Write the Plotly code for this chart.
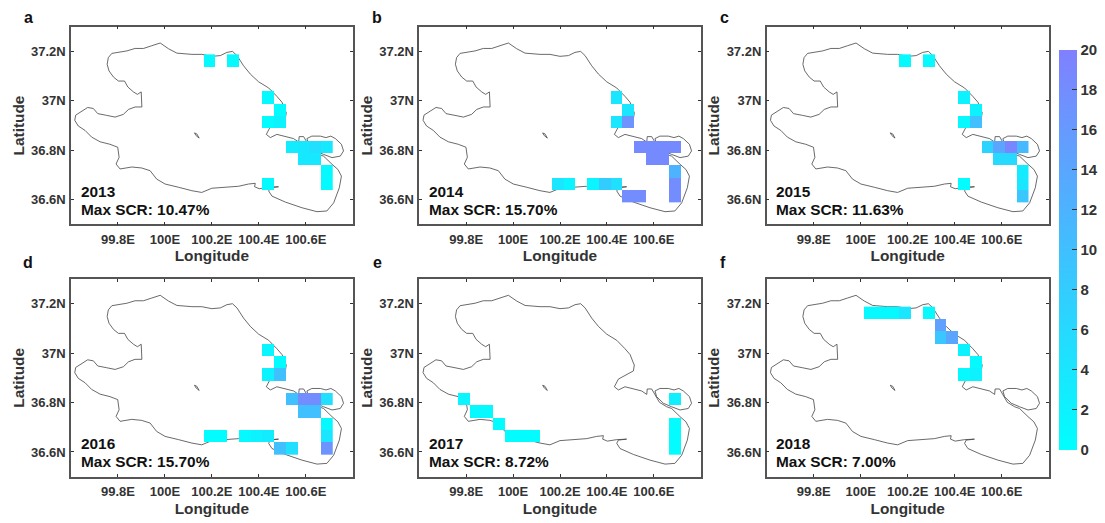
import plotly.graph_objects as go

YEARS = ["2013", "2014", "2015", "2016", "2017", "2018"]
LETTERS = ["a", "b", "c", "d", "e", "f"]
MAX_SCR = ["10.47%", "15.70%", "11.63%", "15.70%", "8.72%", "7.00%"]

LON_CENTERS = [99.79, 99.84, 99.89, 99.94, 99.99, 100.04, 100.09, 100.14, 100.19, 100.24,
               100.29, 100.34, 100.39, 100.44, 100.49, 100.54, 100.59, 100.64, 100.69]
LAT_CENTERS = [36.613, 36.663, 36.713, 36.763, 36.813, 36.863, 36.913, 36.963, 37.013,
               37.063, 37.113, 37.163]

LON_2013 = [100.19, 100.29, 100.44, 100.49, 100.44, 100.49, 100.54, 100.59, 100.64, 100.69, 100.59, 100.64, 100.69, 100.69, 100.44]
LAT_2013 = [37.163, 37.163, 37.013, 36.963, 36.913, 36.913, 36.813, 36.813, 36.813, 36.813, 36.763, 36.763, 36.713, 36.663, 36.663]
VAL_2013 = [0.8, 0.8, 1, 0.5, 0.5, 2, 3, 3.5, 5, 3.5, 3.5, 3.5, 1, 0.8, 0.8]

LON_2014 = [100.44, 100.49, 100.44, 100.49, 100.54, 100.59, 100.64, 100.69, 100.59, 100.64, 100.69, 100.19, 100.24, 100.34, 100.39, 100.44, 100.69, 100.49, 100.54, 100.69]
LAT_2014 = [37.013, 36.963, 36.913, 36.913, 36.813, 36.813, 36.813, 36.813, 36.763, 36.763, 36.713, 36.663, 36.663, 36.663, 36.663, 36.663, 36.663, 36.613, 36.613, 36.613]
VAL_2014 = [4, 4, 4, 17, 18.5, 18.5, 18.5, 18.5, 18.5, 18.5, 12, 4, 1.5, 1.5, 8, 5, 18, 18, 18, 18]

LON_2015 = [100.19, 100.29, 100.44, 100.49, 100.44, 100.49, 100.54, 100.59, 100.64, 100.69, 100.59, 100.64, 100.69, 100.69, 100.44, 100.69]
LAT_2015 = [37.163, 37.163, 37.013, 36.963, 36.913, 36.913, 36.813, 36.813, 36.813, 36.813, 36.763, 36.763, 36.713, 36.663, 36.663, 36.613]
VAL_2015 = [1, 1, 2, 2, 1, 10, 7, 14, 19, 11, 6, 6, 3, 4, 0.5, 9]

LON_2016 = [100.44, 100.49, 100.44, 100.49, 100.54, 100.59, 100.64, 100.69, 100.59, 100.64, 100.69, 100.19, 100.24, 100.34, 100.39, 100.44, 100.69, 100.49, 100.54, 100.69]
LAT_2016 = [37.013, 36.963, 36.913, 36.913, 36.813, 36.813, 36.813, 36.813, 36.763, 36.763, 36.713, 36.663, 36.663, 36.663, 36.663, 36.663, 36.663, 36.613, 36.613, 36.613]
VAL_2016 = [1.5, 0.5, 2, 10, 10, 18, 18, 5, 10, 10, 1, 0.5, 0.5, 1, 2, 3, 4, 10, 5, 17]

LON_2017 = [99.79, 99.84, 99.89, 99.94, 99.99, 100.04, 100.09, 100.69, 100.69, 100.69, 100.69]
LAT_2017 = [36.813, 36.763, 36.763, 36.713, 36.663, 36.663, 36.663, 36.813, 36.713, 36.663, 36.613]
VAL_2017 = [1.5, 1, 1, 0.5, 0.5, 0.5, 0.5, 2.5, 0.5, 0.5, 0.5]

LON_2018 = [100.04, 100.09, 100.14, 100.19, 100.29, 100.34, 100.34, 100.39, 100.44, 100.49, 100.44, 100.49]
LAT_2018 = [37.163, 37.163, 37.163, 37.163, 37.163, 37.113, 37.063, 37.063, 37.013, 36.963, 36.913, 36.913]
VAL_2018 = [1, 1, 1, 4, 1, 15, 9, 14, 2, 1, 1, 2]

# Lake shoreline (main shore, then the sub-lake loop and the small island, split by None)
LAKE_LON = [99.980, 100.015, 100.051, 100.093, 100.115, 100.157, 100.200, 100.236, 100.264, 100.288,
            100.307, 100.335, 100.364, 100.399, 100.442, 100.477, 100.499, 100.513, 100.517, 100.513,
            100.477, 100.449, 100.432, 100.449, 100.477, 100.513, 100.548, 100.570, 100.572, 100.591,
            100.605, 100.624, 100.655, 100.676, 100.712, 100.737, 100.752, 100.743, 100.719, 100.690,
            100.648, 100.584, 100.513, 100.456, 100.442, 100.449, 100.484, 100.442, 100.402, 100.382,
            100.385, 100.356, 100.314, 100.257, 100.200, 100.157, 100.115, 100.058, 100.001, 99.965,
            99.937, 99.901, 99.859, 99.809, 99.792, 99.805, 99.799, 99.766, 99.724, 99.688,
            99.660, 99.631, 99.616, 99.620, 99.646, 99.671, 99.695, 99.714, 99.752, 99.788,
            99.823, 99.845, 99.873, 99.902, 99.899, 99.883, 99.866, 99.842, 99.828, 99.802,
            99.781, 99.762, 99.754, 99.759, 99.774, 99.802, 99.838, 99.873, 99.909, 99.944, 99.980,
            None,
            100.605, 100.626, 100.662, 100.686, 100.707, 100.726, 100.752, 100.761, 100.747, 100.712,
            100.676, 100.641, 100.612, 100.605,
            None,
            100.126, 100.136, 100.146, 100.133, 100.126]
LAKE_LAT = [37.234, 37.211, 37.193, 37.188, 37.188, 37.188, 37.180, 37.183, 37.196, 37.200,
            37.183, 37.142, 37.108, 37.077, 37.052, 37.018, 36.994, 36.960, 36.952, 36.928,
            36.911, 36.895, 36.864, 36.851, 36.864, 36.855, 36.847, 36.833, 36.855, 36.855,
            36.830, 36.801, 36.783, 36.776, 36.743, 36.722, 36.695, 36.648, 36.587, 36.554,
            36.551, 36.567, 36.590, 36.614, 36.635, 36.648, 36.652, 36.650, 36.644, 36.652,
            36.666, 36.663, 36.654, 36.650, 36.646, 36.629, 36.636, 36.650, 36.663, 36.683,
            36.717, 36.728, 36.732, 36.724, 36.744, 36.771, 36.812, 36.824, 36.834, 36.853,
            36.880, 36.898, 36.921, 36.942, 36.959, 36.973, 36.969, 36.948, 36.941, 36.934,
            36.945, 36.965, 36.975, 36.975, 37.036, 37.026, 37.036, 37.056, 37.080, 37.080,
            37.096, 37.121, 37.148, 37.175, 37.192, 37.196, 37.202, 37.212, 37.212, 37.223, 37.234,
            None,
            36.847, 36.857, 36.857, 36.851, 36.857, 36.847, 36.824, 36.797, 36.776, 36.770,
            36.783, 36.797, 36.824, 36.847,
            None,
            36.870, 36.866, 36.849, 36.859, 36.870]

X_TICKS = [99.8, 100.0, 100.2, 100.4, 100.6]
X_LABELS = ["99.8E", "100E", "100.2E", "100.4E", "100.6E"]
Y_TICKS = [36.6, 36.8, 37.0, 37.2]
Y_LABELS = ["36.6N", "36.8N", "37N", "37.2N"]
CBAR_TICKS = [0, 2, 4, 6, 8, 10, 12, 14, 16, 18, 20]

CELLS = [(LON_2013, LAT_2013, VAL_2013), (LON_2014, LAT_2014, VAL_2014), (LON_2015, LAT_2015, VAL_2015),
         (LON_2016, LAT_2016, VAL_2016), (LON_2017, LAT_2017, VAL_2017), (LON_2018, LAT_2018, VAL_2018)]

W, H = 1105, 523
FONT = "Liberation Sans"
LEFTS = [(71.0, 352.7), (419.3, 700.7), (766.7, 1048.7)]
ROWS = [(26.7, 224.3), (279.0, 476.7)]
LETTER_POS = [(28, 17), (377, 17), (724, 17), (28, 262), (377, 262), (723, 262)]


def grid(lons, lats, vals):
    z = [[None for _ in LON_CENTERS] for _ in LAT_CENTERS]
    for lo, la, v in zip(lons, lats, vals):
        z[LAT_CENTERS.index(la)][LON_CENTERS.index(lo)] = v
    return z


fig = go.Figure()
layout = {}
annotations = []
for k in range(6):
    n = k + 1
    s = "" if n == 1 else str(n)
    ov = str(n + 6)
    col, row = k % 3, k // 3
    xd = [LEFTS[col][0] / W, LEFTS[col][1] / W]
    yd = [1 - ROWS[row][1] / H, 1 - ROWS[row][0] / H]
    fig.add_trace(go.Scatter(x=LAKE_LON, y=LAKE_LAT, mode="lines",
                             line=dict(color="#444444", width=0.8),
                             xaxis="x" + s, yaxis="y" + s, showlegend=False, hoverinfo="skip"))
    fig.add_trace(go.Heatmap(x=LON_CENTERS, y=LAT_CENTERS, z=grid(*CELLS[k]), coloraxis="coloraxis",
                             xaxis="x" + ov, yaxis="y" + ov, hoverongaps=False))
    common = dict(showline=True, linewidth=1.5, linecolor="#555555", mirror="ticks", ticks="inside",
                  ticklen=3, tickwidth=1, tickcolor="#333333", showgrid=False, zeroline=False,
                  tickfont=dict(family=FONT, size=13, color="#333333", weight="bold"))
    layout["xaxis" + s] = dict(common, domain=xd, range=[99.6, 100.8], tickvals=X_TICKS, ticktext=X_LABELS,
                               anchor="y" + s, ticklabelstandoff=2,
                               title=dict(text="Longitude", standoff=5,
                                          font=dict(family=FONT, size=15.4, color="#333333", weight="bold")))
    layout["yaxis" + s] = dict(common, domain=yd, range=[36.5, 37.3], tickvals=Y_TICKS, ticktext=Y_LABELS,
                               anchor="x" + s, ticklabelstandoff=1,
                               title=dict(text="Latitude", standoff=3,
                                          font=dict(family=FONT, size=15.4, color="#333333", weight="bold")))
    layout["xaxis" + ov] = dict(overlaying="x" + s, range=[99.6, 100.8], visible=False, anchor="y" + ov,
                                domain=xd)
    layout["yaxis" + ov] = dict(overlaying="y" + s, range=[36.5, 37.3], visible=False, anchor="x" + ov,
                                domain=yd)
    annotations.append(dict(text=YEARS[k], x=99.632, y=36.634, xref="x" + s, yref="y" + s, xanchor="left",
                            yanchor="middle", showarrow=False,
                            font=dict(family=FONT, size=15.4, color="#111111", weight="bold")))
    annotations.append(dict(text="Max SCR: " + MAX_SCR[k], x=99.632, y=36.561, xref="x" + s, yref="y" + s,
                            xanchor="left", yanchor="middle", showarrow=False,
                            font=dict(family=FONT, size=15.4, color="#111111", weight="bold")))
    annotations.append(dict(text=LETTERS[k], x=LETTER_POS[k][0] / W, y=1 - LETTER_POS[k][1] / H, xref="paper",
                            yref="paper", xanchor="center", yanchor="middle", showarrow=False,
                            font=dict(family=FONT, size=16, color="#111111", weight="bold")))

fig.update_layout(
    width=W, height=H, margin=dict(l=0, r=0, t=0, b=0), paper_bgcolor="white", plot_bgcolor="white",
    showlegend=False, annotations=annotations,
    coloraxis=dict(cmin=0, cmax=20, colorscale=[[0, "#00ffff"], [1, "#8080ff"]],
                   colorbar=dict(x=1058.7 / W, xanchor="left", y=1 - 249.5 / H, yanchor="middle",
                                 thicknessmode="pixels", thickness=17.6, lenmode="pixels", len=400,
                                 xpad=0, ypad=0, outlinewidth=0, tickvals=CBAR_TICKS, ticks="inside",
                                 ticklen=5, tickwidth=1, tickcolor="#333333",
                                 tickfont=dict(family=FONT, size=15, color="#333333", weight="bold"))),
    **layout,
)
fig.write_html("out.html", config={"displayModeBar": False},
               post_script="document.body.style.margin='0';document.body.style.overflow='hidden';")
